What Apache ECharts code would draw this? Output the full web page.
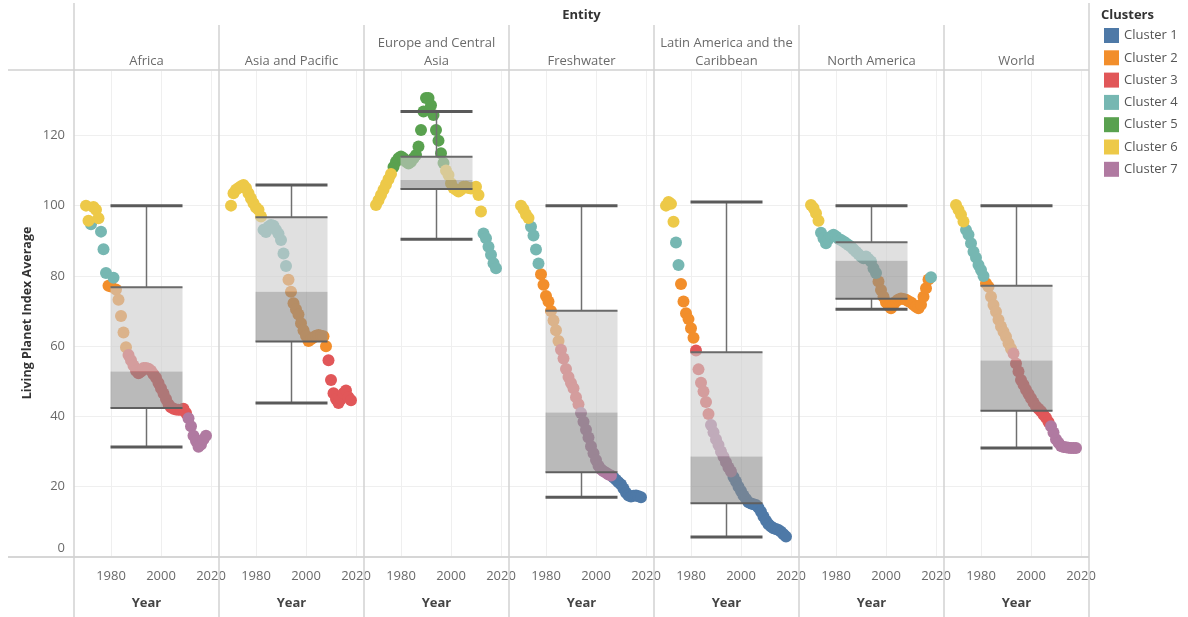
<!DOCTYPE html>
<html><head><meta charset="utf-8">
<script src="https://cdn.jsdelivr.net/npm/echarts@6/dist/echarts.min.js"></script>
<style>html,body{margin:0;padding:0;background:#fff}#c{width:1188px;height:617px}</style>
</head><body><div id="c"></div>
<script>
// ---------- DATA ----------
const entities = ['Africa','Asia and Pacific','Europe and Central\nAsia','Freshwater','Latin America and the\nCaribbean','North America','World'];
const clusterNames = ['Cluster 1','Cluster 2','Cluster 3','Cluster 4','Cluster 5','Cluster 6','Cluster 7'];
const clusterColors = ['#4e79a7','#f28e2b','#e15759','#76b7b2','#59a14f','#edc948','#b07aa1'];
const yearTicks = [1980, 2000, 2020];
const years = [1970,1971,1972,1973,1974,1975,1976,1977,1978,1979,
               1980,1981,1982,1983,1984,1985,1986,1987,1988,1989,
               1990,1991,1992,1993,1994,1995,1996,1997,1998,1999,
               2000,2001,2002,2003,2004,2005,2006,2007,2008,2009,
               2010,2011,2012,2013,2014,2015,2016,2017,2018];

const africa = [100,95.7,94.7,99.6,98.8,96.4,92.6,87.6,80.8,77.2,
                77,79.5,76.1,73.2,68.6,63.9,59.7,57.5,56,54.5,
                53,52.3,52.8,53.8,53.8,53.6,53,52,51,49.5,
                48,46.5,45,43.5,42.6,42.2,42,41.9,41.9,42.2,
                41,39.5,37.2,34.5,33,31.4,32,33.5,34.5];
const africaCl = [6,6,4,6,6,6,4,4,4,2, 2,4,2,2,2,2,2,3,3,3, 3,3,3,3,3,3,3,3,3,3, 3,3,3,3,3,3,3,3,3,3, 3,7,7,7,7,7,7,7,7];

const asia = [100,103.5,104.5,105,105.5,105.9,105,103.5,102,100.7,
              99.5,98.8,96.9,93.1,92.5,94,94.5,94.3,93.1,92,
              90.2,86.4,82.8,78.9,75.5,72.2,70.5,69,66.5,64.5,
              63,61.5,62,62.5,63,63.2,63,62.8,60,56,
              50.4,46.6,45,43.8,45,46.6,47.4,45.5,44.6];
const asiaCl = [6,6,6,6,6,6,6,6,6,6, 6,6,6,4,4,4,4,4,4,4, 4,4,4,2,2,2,2,2,2,2, 2,2,2,2,2,2,2,2,2,3, 3,3,3,3,3,3,3,3,3];

const europe = [100.2,101.5,103,104.5,106,107.5,109,111,112.5,113.5,
                114,113.5,112.5,112,112.5,113.5,114.4,116.8,121.5,126.8,
                130.6,130.6,128.6,125.8,121.5,118.5,114.9,112.1,110,108.7,
                106.4,105,104.5,104,104.5,105.4,105.4,105,104.9,105,
                105.4,103,98.3,92.1,90.7,88.3,86,83.6,82.2];
const europeCl = [6,6,6,6,6,6,6,5,5,5, 5,5,5,5,5,5,5,5,5,5, 5,5,5,5,5,5,5,5,6,6, 6,6,6,6,6,6,6,6,6,6, 6,6,6,4,4,4,4,4,4];

const freshwater = [100,99,97.5,96.5,94,91.5,87.5,83.5,80.5,77.5,
                    74.3,72.7,70,67.3,64.5,61.5,59,56.5,53.5,51.2,
                    49.5,48,45.5,43.5,41,38.5,36.2,34,31.5,29.5,
                    27.6,26,25,24.4,24,23.5,23.2,22.6,22,21.3,
                    20.6,19.5,18.3,17.5,17.2,17.4,17.5,17.3,17];
const freshwaterCl = [6,6,6,6,4,4,4,4,2,2, 2,2,2,2,2,2,3,3,3,3, 3,3,3,3,7,7,7,7,7,7, 7,7,7,7,7,7,7,1,1,1, 1,1,1,1,1,1,1,1,1];

const latam = [100,101,100.5,95.4,89.5,83.1,77.7,72.7,69.4,67.7,
               65.1,62.4,58.8,53.4,49.6,47.1,44.1,40.7,37.6,35.5,
               33.5,31.9,30,28.5,27,25.5,24.3,22.8,21.5,20,
               18.8,17.5,16.5,15.6,15.2,15,14.8,14,12.9,11.5,
               10.3,9.3,8.7,8.2,8,7.7,7.2,6.5,5.8];
const latamCl = [6,6,6,6,4,4,2,2,2,2, 2,2,3,3,3,3,3,3,7,7, 7,7,7,7,7,7,7,1,1,1, 1,1,1,1,1,1,1,1,1,1, 1,1,1,1,1,1,1,1,1];

const northAm = [100.2,99.3,97.8,95.7,92.3,90.7,89.3,90.5,91.2,91.7,
                 91.2,90.6,90.2,89.8,89.3,88.8,88.3,87.6,86.9,86.2,
                 85.5,85,85.5,84.8,84.1,82.2,80.8,78.4,76,74.1,
                 72.5,71.5,70.8,71.8,72.7,73.3,73.6,73.4,73.2,72.8,
                 72.4,71.8,71.2,70.8,71.8,74.1,76.5,79,79.6];
const northAmCl = [6,6,6,6,4,4,4,4,4,4, 4,4,4,4,4,4,4,4,4,4, 4,4,4,4,4,4,4,2,2,2, 2,2,2,2,2,2,2,2,2,2, 2,2,2,2,2,2,2,2,4];

const world = [100.2,98.8,97.4,95.5,93.1,91.7,89.3,86.9,85.2,83.1,
               81.7,80,77.9,76.9,74.1,71.7,69.8,67.5,65.6,64.1,
               62.7,60.8,59.3,57.9,55.1,52.8,50.4,49,47.6,46.4,
               45.2,44,42.9,42.2,41.5,40.5,39.6,38.4,37.2,35.4,
               33.5,32.5,31.6,31.3,31.2,31.1,31,31,31];
const worldCl = [6,6,6,6,4,4,4,4,4,4, 4,4,2,2,2,2,2,2,2,2, 2,2,2,3,3,3,3,3,3,3, 3,3,3,3,3,3,3,3,7,7, 7,7,7,7,7,7,7,7,7];

// box stats: [lower whisker, Q1, median, Q3, upper whisker]
const boxAfrica = [31.3, 42.4, 52.8, 76.8, 100];
const boxAsia = [43.8, 61.3, 75.5, 96.7, 105.9];
const boxEurope = [90.4, 104.7, 107.3, 113.9, 126.8];
const boxFreshwater = [17.0, 24.1, 41.1, 70.1, 100];
const boxLatam = [5.7, 15.3, 28.6, 58.3, 101];
const boxNorthAm = [70.5, 73.5, 84.3, 89.6, 100];
const boxWorld = [31, 41.6, 55.9, 77.2, 100];

const values = [africa, asia, europe, freshwater, latam, northAm, world];
const clusters = [africaCl, asiaCl, europeCl, freshwaterCl, latamCl, northAmCl, worldCl];
const boxes = [boxAfrica, boxAsia, boxEurope, boxFreshwater, boxLatam, boxNorthAm, boxWorld];

// ---------- LAYOUT ----------
const LEFT0 = 74, PW = 145, TOP = 70, PH = 487;
const XMIN = 1965.2, XMAX = 2023.2;
const BOX_CENTER = (XMIN + XMAX) / 2, BOX_HALF = 14.4;
const FONT = 'Open Sans';

const grid = [], xAxis = [], yAxis = [], series = [];

function renderBox(params, api) {
  const cx = api.value(0);
  const lo = api.value(1), q1 = api.value(2), md = api.value(3), q3 = api.value(4), hi = api.value(5);
  const xl = api.coord([cx - BOX_HALF, 0])[0];
  const xr = api.coord([cx + BOX_HALF, 0])[0];
  const xc = api.coord([cx, 0])[0];
  const y = v => api.coord([cx, v])[1];
  const line = (x1, y1, x2, y2, stroke, w) => ({type: 'line', shape: {x1, y1, x2, y2}, style: {stroke, lineWidth: w}});
  return {
    type: 'group',
    children: [
      {type: 'rect', shape: {x: xl, y: y(q3), width: xr - xl, height: y(md) - y(q3)}, style: {fill: 'rgba(203,203,203,0.6)'}},
      {type: 'rect', shape: {x: xl, y: y(md), width: xr - xl, height: y(q1) - y(md)}, style: {fill: 'rgba(140,140,140,0.6)'}},
      line(xc, y(hi), xc, y(q3), '#707070', 1.5),
      line(xc, y(q1), xc, y(lo), '#707070', 1.5),
      line(xl, y(q3), xr, y(q3), '#6a6a6a', 2),
      line(xl, y(q1), xr, y(q1), '#5f5f5f', 2),
      line(xl, y(hi), xr, y(hi), '#5a5a5a', 3),
      line(xl, y(lo), xr, y(lo), '#5a5a5a', 3)
    ]
  };
}

for (let i = 0; i < entities.length; i++) {
  grid.push({left: LEFT0 + PW * i, top: TOP, width: PW, height: PH});
  xAxis.push({
    gridIndex: i, type: 'value', min: XMIN, max: XMAX,
    axisLine: {show: false},
    axisTick: {show: false, customValues: yearTicks},
    axisLabel: {customValues: yearTicks, color: '#6a6a6a', fontSize: 13, fontFamily: FONT, margin: 13, formatter: v => String(v)},
    splitLine: {show: true, lineStyle: {color: '#efefef', width: 1}},
    name: 'Year', nameLocation: 'middle', nameGap: 40,
    nameTextStyle: {fontWeight: 'bold', fontSize: 13, color: '#444', fontFamily: FONT}
  });
  yAxis.push({
    gridIndex: i, type: 'value', min: 0, max: 138.6, interval: 20,
    axisLine: {show: false}, axisTick: {show: false},
    axisLabel: {show: i === 0, showMaxLabel: false, color: '#6a6a6a', fontSize: 13, fontFamily: FONT, margin: 9,
      formatter: v => v === 0 ? '{z|0}' : String(v),
      rich: {z: {fontSize: 13, fontFamily: FONT, color: '#6a6a6a', padding: [0, 0, 18, 0]}}},
    splitLine: {show: true, lineStyle: {color: '#efefef', width: 1}}
  });
  for (let k = 1; k <= 7; k++) {
    const data = [];
    years.forEach((yr, j) => { if (clusters[i][j] === k) data.push([yr, values[i][j]]); });
    if (!data.length) continue;
    series.push({
      type: 'scatter', name: clusterNames[k - 1], xAxisIndex: i, yAxisIndex: i,
      data, symbolSize: 12, itemStyle: {color: clusterColors[k - 1], opacity: 1},
      z: 2, silent: true
    });
  }
  series.push({
    type: 'custom', xAxisIndex: i, yAxisIndex: i, silent: true, z: 5,
    data: [[BOX_CENTER].concat(boxes[i])],
    encode: {x: 0, y: [1, 2, 3, 4, 5]},
    renderItem: renderBox
  });
}

// frame lines + header texts
const graphic = [];
const gline = (x1, y1, x2, y2, stroke, w) => graphic.push({type: 'line', silent: true, z: 10, shape: {x1, y1, x2, y2}, style: {stroke, lineWidth: w}});
gline(8, 70, 1089, 70, '#dcdcdc', 2);
gline(8, 557, 1089, 557, '#d6d6d6', 2);
gline(74, 3, 74, 617, '#d2d2d2', 1.5);
gline(1089, 3, 1089, 617, '#d2d2d2', 1.5);
for (let i = 1; i < entities.length; i++) gline(LEFT0 + PW * i, 25, LEFT0 + PW * i, 617, '#d2d2d2', 1.5);

graphic.push({type: 'text', silent: true, x: 581.5, y: 15,
  style: {text: 'Entity', font: 'bold 13px "Open Sans"', fill: '#333', textAlign: 'center', textVerticalAlign: 'middle'}});
entities.forEach((name, i) => {
  graphic.push({type: 'text', silent: true, x: LEFT0 + PW * i + PW / 2, y: 70,
    style: {text: name, font: '13px "Open Sans"', fill: '#6a6a6a', textAlign: 'center', textVerticalAlign: 'bottom', lineHeight: 18}});
});
graphic.push({type: 'text', silent: true, x: 27, y: 313, rotation: Math.PI / 2,
  style: {text: 'Living Planet Index Average', font: 'bold 12.5px "Open Sans"', fill: '#333', textAlign: 'center', textVerticalAlign: 'middle'}});
graphic.push({type: 'text', silent: true, x: 1101, y: 15,
  style: {text: 'Clusters', font: 'bold 13px "Open Sans"', fill: '#333', textAlign: 'left', textVerticalAlign: 'middle'}});

const chart = echarts.init(document.getElementById('c'), null, {renderer: 'canvas'});
chart.setOption({
  animation: false,
  textStyle: {fontFamily: FONT},
  grid, xAxis, yAxis, series, graphic,
  legend: {
    data: clusterNames, orient: 'vertical', left: 1104, top: 28, padding: 0,
    icon: 'rect', itemWidth: 15, itemHeight: 15, itemGap: 7.3, selectedMode: false,
    textStyle: {fontSize: 13, color: '#555', fontFamily: FONT, lineHeight: 15}
  }
});
</script></body></html>
